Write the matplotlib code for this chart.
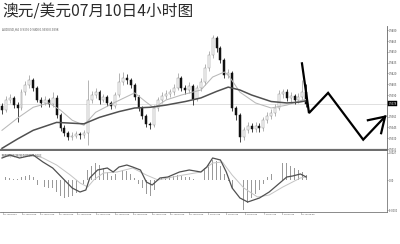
import numpy as np
import matplotlib
matplotlib.use("Agg")
import matplotlib.pyplot as plt
from matplotlib.transforms import blended_transform_factory

plt.rcParams['font.family'] = ['Noto Sans CJK SC', 'DejaVu Sans']

# ---- AUDUSD H4 candles ----
first_open = 0.9375
closes = [0.9369, 0.9383, 0.9386, 0.9376, 0.9372, 0.9394, 0.9404, 0.9411, 0.9400, 0.9383,
          0.9379, 0.9383, 0.9378, 0.9386, 0.9362, 0.9344, 0.9337, 0.9332, 0.9333, 0.9336,
          0.9334, 0.9337, 0.9383, 0.9390, 0.9394, 0.9383, 0.9387, 0.9379, 0.9375, 0.9390,
          0.9408, 0.9414, 0.9411, 0.9404, 0.9387, 0.9372, 0.9361, 0.9350, 0.9348, 0.9372,
          0.9383, 0.9389, 0.9391, 0.9394, 0.9400, 0.9414, 0.9400, 0.9397, 0.9403, 0.9385,
          0.9400, 0.9408, 0.9428, 0.9446, 0.9469, 0.9455, 0.9439, 0.9418, 0.9421, 0.9372,
          0.9362, 0.9332, 0.9341, 0.9347, 0.9343, 0.9347, 0.9344, 0.9355, 0.9361, 0.9365,
          0.9372, 0.9391, 0.9394, 0.9386, 0.9389, 0.9383, 0.9387, 0.9394, 0.9378]
highs = [0.9379, 0.9388, 0.9392, 0.9389, 0.9380, 0.9398, 0.9409, 0.9418, 0.9414, 0.9403,
         0.9387, 0.9389, 0.9386, 0.9394, 0.9390, 0.9365, 0.9348, 0.9340, 0.9338, 0.9340,
         0.9339, 0.9341, 0.9411, 0.9395, 0.9400, 0.9397, 0.9392, 0.9390, 0.9382, 0.9394,
         0.9421, 0.9422, 0.9419, 0.9414, 0.9407, 0.9390, 0.9375, 0.9364, 0.9353, 0.9376,
         0.9387, 0.9394, 0.9397, 0.9399, 0.9405, 0.9421, 0.9417, 0.9404, 0.9408, 0.9406,
         0.9404, 0.9413, 0.9433, 0.9451, 0.9474, 0.9472, 0.9458, 0.9442, 0.9426, 0.9424,
         0.9375, 0.9365, 0.9346, 0.9352, 0.9351, 0.9352, 0.9351, 0.9360, 0.9366, 0.9370,
         0.9378, 0.9397, 0.9399, 0.9398, 0.9394, 0.9392, 0.9393, 0.9411, 0.9405]
lows = [0.9364, 0.9366, 0.9379, 0.9372, 0.9352, 0.9369, 0.9390, 0.9400, 0.9396, 0.9380,
        0.9374, 0.9376, 0.9374, 0.9373, 0.9358, 0.9340, 0.9333, 0.9328, 0.9328, 0.9330,
        0.9329, 0.9330, 0.9321, 0.9379, 0.9386, 0.9378, 0.9380, 0.9375, 0.9371, 0.9372,
        0.9387, 0.9404, 0.9406, 0.9400, 0.9383, 0.9368, 0.9357, 0.9346, 0.9343, 0.9345,
        0.9368, 0.9379, 0.9385, 0.9387, 0.9390, 0.9397, 0.9396, 0.9392, 0.9393, 0.9376,
        0.9382, 0.9396, 0.9404, 0.9424, 0.9442, 0.9450, 0.9434, 0.9413, 0.9414, 0.9368,
        0.9356, 0.9325, 0.9328, 0.9337, 0.9339, 0.9339, 0.9339, 0.9340, 0.9351, 0.9357,
        0.9361, 0.9369, 0.9386, 0.9382, 0.9381, 0.9378, 0.9379, 0.9383, 0.9374]
opens = [first_open] + closes[:-1]
bid_price = 0.9378

# moving averages (bar index, price)
ma_fast_idx = [0, 4, 8, 12, 15, 18, 21, 24, 29, 34, 37, 39, 42, 46, 51, 54, 57, 58, 61, 65, 69, 73, 77, 78]
ma_fast_val = [0.9341, 0.9358, 0.9373, 0.9379, 0.9369, 0.9355, 0.9348, 0.9366, 0.9380, 0.9393,
               0.9380, 0.9372, 0.9383, 0.9390, 0.9397, 0.9415, 0.9422, 0.9418, 0.9394, 0.9379,
               0.9372, 0.9376, 0.9383, 0.9384]
ma_slow_idx = [0, 4, 8, 14, 21, 25, 30, 34, 38, 42, 47, 51, 55, 58, 61, 64, 69, 73, 76, 78]
ma_slow_val = [0.9316, 0.9329, 0.9341, 0.9352, 0.9350, 0.9359, 0.9367, 0.9372, 0.9373, 0.9376,
               0.9381, 0.9386, 0.9395, 0.9401, 0.9397, 0.9390, 0.9381, 0.9379, 0.9380, 0.9382]

# forecast path drawn over the chart
path_idx = [76.9, 78.7, 83.6, 92.6, 98.2]
path_val = [0.9434, 0.9365, 0.9393, 0.9328, 0.9360]
head_idx = [93.8, 98.2, 97.2]
head_val = [0.9355, 0.9360, 0.9337]

# ---- MACD window ----
macd_hist = [0.0002, 0.0003, 0.0002, 0.0001, 0.0001, 0.0003, 0.0004, 0.0005, 0.0003, -0.0005,
             -0.0007, -0.0007, -0.0008, -0.0008, -0.0012, -0.0016, -0.0018, -0.0017, -0.0016, -0.0013,
             -0.0009, -0.0004, 0.0010, 0.0014, 0.0017, 0.0015, 0.0012, 0.0008, 0.0004, 0.0006,
             0.0008, 0.0010, 0.0009, 0.0006, 0.0002, -0.0004, -0.0008, -0.0014, -0.0016, -0.0010,
             -0.0004, 0.0002, 0.0003, 0.0004, 0.0004, 0.0005, 0.0004, 0.0003, 0.0003, 0.0001,
             0.0004, 0.0007, 0.0012, 0.0016, 0.0020, 0.0019, 0.0014, 0.0006, -0.0001, -0.0008,
             -0.0018, -0.0026, -0.0030, -0.0023, -0.0018, -0.0014, -0.0010, -0.0004, 0.0003, 0.0006,
             0.0010, 0.0015, 0.0017, 0.0017, 0.0014, 0.0012, 0.0010, 0.0008, 0.0005]
macd_line_idx = [0, 2, 4.5, 8, 10.5, 13, 16.5, 18, 20, 21.5, 22.5, 24.5, 27, 28.5, 30, 32, 33.5,
                 35.5, 37, 38.5, 40.5, 42.5, 45.5, 48, 51, 52.5, 54, 56, 57.5, 59, 61, 63, 64.5,
                 66, 68.5, 71.5, 73, 74.5, 76.5, 78]
macd_line_val = [0.0022, 0.0025, 0.0022, 0.0025, 0.0018, 0.0012, -0.0002, -0.0008, -0.0012, -0.0010,
                 0.0002, 0.0010, 0.0012, 0.0008, 0.0013, 0.0015, 0.0013, 0.0010, -0.0002, -0.0005,
                 0.0002, 0.0003, 0.0008, 0.0010, 0.0008, 0.0013, 0.0022, 0.0020, 0.0008, -0.0008,
                 -0.0018, -0.0022, -0.0020, -0.0018, -0.0012, -0.0002, 0.0003, 0.0004, 0.0006, 0.0003]
signal_idx = [0, 8, 10.5, 14, 17.5, 20, 22, 23.5, 26, 29.5, 33.5, 37, 40, 42.5, 46.5, 51, 54,
              56.5, 59, 62, 65.5, 68.5, 72, 76.5, 78]
signal_val = [0.0025, 0.0025, 0.0022, 0.0015, 0.0005, -0.0003, -0.0007, 0.0000, 0.0007, 0.0008,
              0.0012, 0.0005, 0.0000, 0.0002, 0.0005, 0.0008, 0.0017, 0.0018, 0.0005, -0.0008,
              -0.0017, -0.0015, -0.0007, 0.0002, 0.0003]

price_ticks = [0.9480, 0.9465, 0.9450, 0.9435, 0.9420, 0.9405, 0.9390,
               0.9360, 0.9345, 0.9330, 0.9315]
macd_ticks = [0.0027, 0.0, -0.0030]
macd_tick_labels = ['0.0027', '0.00', '-0.0030']
date_labels = ['10 Jun 2014', '12 Jun 00:00', '13 Jun 08:00', '16 Jun 16:00', '18 Jun 00:00',
               '19 Jun 08:00', '20 Jun 16:00', '24 Jun 00:00', '25 Jun 08:00', '26 Jun 16:00',
               '30 Jun 00:00', '1 Jul 08:00', '2 Jul 16:00', '4 Jul 00:00', '7 Jul 08:00',
               '8 Jul 16:00', '10 Jul 00:00']

W, H = 400, 244
fig = plt.figure(figsize=(W / 100, H / 100), dpi=100)
fig.patch.set_facecolor('white')


def box(x0, y0, x1, y1):
    return [x0 / W, 1 - y1 / H, (x1 - x0) / W, (y1 - y0) / H]


RIGHT = 387
ax = fig.add_axes(box(0, 26, RIGHT, 150))
mx = fig.add_axes(box(0, 151, RIGHT, 212))
xlim = (-0.51, 98.7)
tick_font = 1.9

# candles
idx = np.arange(len(closes))
o = np.array(opens)
c = np.array(closes)
hi = np.array(highs)
lo = np.array(lows)
bull = c >= o
ax.vlines(idx[bull], lo[bull], hi[bull], color='#8a8a8a', lw=0.45, zorder=2)
ax.vlines(idx[~bull], lo[~bull], hi[~bull], color='#111111', lw=0.55, zorder=2)
body_lo = np.minimum(o, c)
body_h = np.maximum(np.abs(c - o), 0.00005)
ax.bar(idx[bull], body_h[bull], bottom=body_lo[bull], width=0.5,
       facecolor='white', edgecolor='#8f8f8f', lw=0.35, zorder=3)
ax.bar(idx[~bull], body_h[~bull], bottom=body_lo[~bull], width=0.5,
       facecolor='#111111', edgecolor='#111111', lw=0.35, zorder=3)

ax.plot(ma_fast_idx, ma_fast_val, color='#b8b8b8', lw=0.75, zorder=4)
ax.plot(ma_slow_idx, ma_slow_val, color='#505050', lw=1.1, zorder=4)
ax.axhline(bid_price, color='#dadada', lw=0.6, zorder=1)

ax.plot(path_idx, path_val, color='black', lw=1.6, zorder=6,
        solid_joinstyle='miter', clip_on=False)
ax.plot(head_idx, head_val, color='black', lw=1.6, zorder=6,
        solid_joinstyle='miter', clip_on=False)

ax.set_xlim(*xlim)
ax.set_ylim(0.9522 - 0.0001389 * 150, 0.9522 - 0.0001389 * 26)
ax.yaxis.tick_right()
ax.set_yticks(price_ticks)
ax.set_yticklabels(['%.4f' % v for v in price_ticks])
ax.tick_params(axis='y', length=1.0, width=0.4, labelsize=tick_font, pad=0.5,
               colors='#444444')
ax.set_xticks([])
for s in ['top', 'left']:
    ax.spines[s].set_visible(False)
ax.spines['right'].set_color('#666666')
ax.spines['right'].set_linewidth(0.6)
ax.spines['bottom'].set_color('#6e6e6e')
ax.spines['bottom'].set_linewidth(1.6)

tr = blended_transform_factory(ax.transAxes, ax.transData)
ax.text(1.004, bid_price, '%.4f' % bid_price, transform=tr, fontsize=tick_font,
        color='white', va='center', ha='left',
        bbox=dict(boxstyle='square,pad=0.2', fc='black', ec='black', lw=0.3))

fig.text(2 / W, 1 - 29 / H, 'AUDUSD,H4  0.9396 0.9400 0.9390 0.9398',
         fontsize=2.2, color='#555555', va='center', ha='left')

# MACD
mx.bar(idx, macd_hist, width=0.22, color='#9a9a9a', lw=0, zorder=2)
mx.plot(signal_idx, signal_val, color='#c4c4c4', lw=0.7, zorder=3)
mx.plot(macd_line_idx, macd_line_val, color='#505050', lw=0.9, zorder=4)
mx.set_xlim(*xlim)
mx.set_ylim(-0.0032, 0.0029)
mx.yaxis.tick_right()
mx.set_yticks(macd_ticks)
mx.set_yticklabels(macd_tick_labels)
mx.tick_params(axis='y', length=1.0, width=0.4, labelsize=tick_font, pad=0.5,
               colors='#444444')
tick_pos = np.arange(len(date_labels)) * 4.77 + 0.26
mx.set_xticks(tick_pos)
mx.set_xticklabels(date_labels)
mx.tick_params(axis='x', length=1.0, width=0.4, labelsize=1.75, pad=0.6,
               colors='#444444')
for lbl in mx.get_xticklabels():
    lbl.set_ha('left')
mx.spines['top'].set_visible(False)
mx.spines['left'].set_visible(False)
for s in ['right', 'bottom']:
    mx.spines[s].set_color('#777777')
    mx.spines[s].set_linewidth(0.6)
fig.text(2 / W, 1 - 155 / H, 'MACD(12,26,9) 0.0005 0.0003',
         fontsize=2.2, color='#555555', va='center', ha='left')

fig.text(2 / W, 1 - 12 / H, '澳元/美元07月10日4小时图', fontsize=11.3,
         color='#2a2a2a', va='center', ha='left')

fig.savefig('out.png', dpi=100, facecolor='white')
